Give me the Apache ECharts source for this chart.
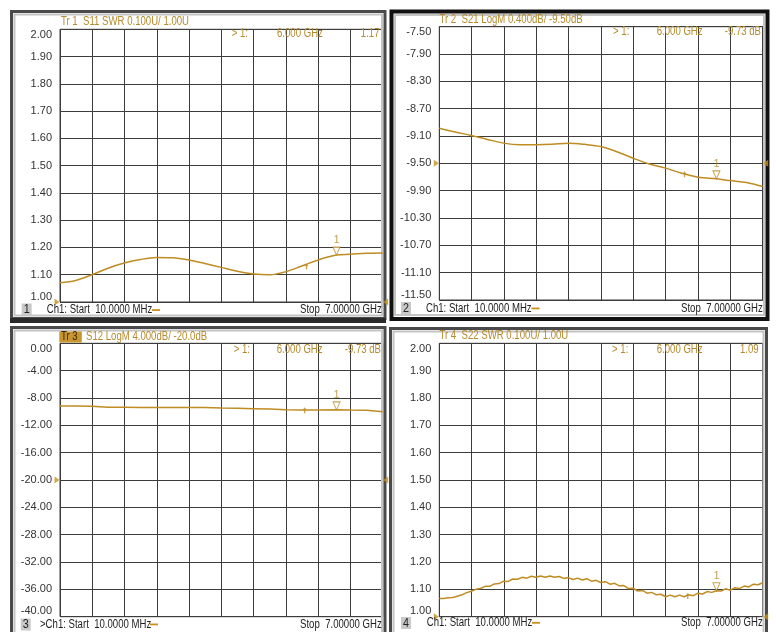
<!DOCTYPE html>
<html><head><meta charset="utf-8">
<script src="https://cdn.jsdelivr.net/npm/echarts@6/dist/echarts.min.js"></script>
<style>html,body{margin:0;padding:0;background:#fff}#c{width:776px;height:632px}</style>
</head><body><div id="c"></div>
<script>
// ---- data (GHz / SWR / dB) ----
const freqs = [0.01,0.35,0.7,1.05,1.4,1.75,2.1,2.45,2.8,3.15,3.5,3.85,4.2,4.55,4.9,5.25,5.6,6.0,6.3,6.65,7.0];
const s11 = [1.071,1.079,1.100,1.124,1.143,1.156,1.163,1.162,1.154,1.141,1.127,1.113,1.103,1.100,1.111,1.132,1.154,1.172,1.175,1.179,1.180];
const s21 = [-8.985,-9.04,-9.092,-9.15,-9.204,-9.228,-9.229,-9.222,-9.205,-9.222,-9.254,-9.33,-9.425,-9.51,-9.57,-9.645,-9.702,-9.727,-9.752,-9.78,-9.84];
const s12 = [-9.19,-9.19,-9.20,-9.37,-9.37,-9.38,-9.38,-9.38,-9.38,-9.39,-9.45,-9.50,-9.56,-9.63,-9.72,-9.76,-9.76,-9.74,-9.77,-9.78,-10.0];
const freqsFine = [0.01,0.1,0.2,0.3,0.4,0.5,0.6,0.7,0.8,0.9,1.0,1.1,1.2,1.3,1.4,1.5,1.6,1.7,1.8,1.9,2.0,2.1,2.2,2.3,2.4,2.5,2.6,2.7,2.8,2.9,3.0,3.1,3.2,3.3,3.4,3.5,3.6,3.7,3.8,3.9,4.0,4.1,4.2,4.3,4.4,4.5,4.6,4.7,4.8,4.9,5.0,5.1,5.2,5.3,5.4,5.5,5.6,5.7,5.8,5.9,6.0,6.1,6.2,6.3,6.4,6.5,6.6,6.7,6.8,6.9,7.0];
const s22 = [1.067,1.067,1.069,1.070,1.075,1.080,1.088,1.093,1.100,1.103,1.111,1.111,1.120,1.121,1.130,1.129,1.138,1.137,1.144,1.141,1.148,1.144,1.149,1.144,1.149,1.144,1.147,1.140,1.143,1.136,1.141,1.134,1.139,1.130,1.133,1.125,1.128,1.119,1.122,1.113,1.114,1.103,1.104,1.094,1.096,1.086,1.089,1.080,1.082,1.073,1.079,1.073,1.079,1.073,1.080,1.077,1.086,1.083,1.092,1.089,1.095,1.094,1.102,1.097,1.106,1.103,1.112,1.109,1.119,1.117,1.124];

const yLabels1 = ['1.00','1.10','1.20','1.30','1.40','1.50','1.60','1.70','1.80','1.90','2.00'];
const yLabels2 = ['-11.50','-11.10','-10.70','-10.30','-9.90','-9.50','-9.10','-8.70','-8.30','-7.90','-7.50'];
const yLabels3 = ['-40.00','-36.00','-32.00','-28.00','-24.00','-20.00','-16.00','-12.00','-8.00','-4.00','0.00'];
const yLabels4 = ['1.00','1.10','1.20','1.30','1.40','1.50','1.60','1.70','1.80','1.90','2.00'];

const yRanges = [[1,2],[-11.5,-7.5],[-40,0],[1,2]];
const refLevels = [1.0, -9.5, -20, 1.0];
const markerFreq = 6.0;
const markerText = '6.000 GHz';
const markerReadouts = ['1.17','-9.73 dB','-9.73 dB','1.09'];
const startText = 'Ch1: Start  10.0000 MHz';
const stopText = 'Stop  7.00000 GHz';
const glyphFreqs = [5.35, 5.31, 5.31, 5.38];
const glyphVals = [1.130, -9.66, -9.80, 1.076];

// ---- layout / style ----
const GOLD = '#b48a2c';
const TRACE = '#bf8c22';
const GRIDC = '#3c3c3c';
const FONT = '"Liberation Sans", Arial, sans-serif';
const grids = [
  {left:60, top:29.3, width:322.7, height:272.7},
  {left:439.3, top:26.7, width:323.4, height:273.3},
  {left:60, top:343.3, width:322.7, height:273.4},
  {left:439.3, top:343.3, width:323.4, height:273.4}
];
const yLabelSets = [yLabels1, yLabels2, yLabels3, yLabels4];
const seriesX = [freqs, freqs, freqs, freqsFine];
const seriesY = [s11, s21, s12, s22];

const chart = echarts.init(document.getElementById('c'), null, {renderer:'canvas'});

const xAxis = [], yAxis = [], series = [];
for (let i = 0; i < 4; i++) {
  xAxis.push({type:'value', gridIndex:i, min:0, max:10, interval:1,
    axisLine:{show:false}, axisTick:{show:false}, axisLabel:{show:false},
    splitLine:{show:true, lineStyle:{color:GRIDC, width:1}}});
  xAxis.push({type:'value', gridIndex:i, min:0.01, max:7.0, show:false, splitLine:{show:false}});
  const labs = yLabelSets[i];
  yAxis.push({type:'value', gridIndex:i, min:0, max:10, interval:1,
    axisLine:{show:false}, axisTick:{show:false},
    axisLabel:{show:true, margin:8, color:'#333', fontSize:11, fontFamily:FONT,
      showMinLabel:true, showMaxLabel:true,
      verticalAlignMinLabel:'bottom', verticalAlignMaxLabel:'top',
      formatter: v => labs[Math.round(v)]},
    splitLine:{show:true, lineStyle:{color:GRIDC, width:1}}});
  yAxis.push({type:'value', gridIndex:i, min:yRanges[i][0], max:yRanges[i][1], show:false, splitLine:{show:false}});

  const xs = seriesX[i], ys = seriesY[i];
  const pts = xs.map((f, k) => [f, ys[k]]);
  series.push({type:'line', xAxisIndex:2*i+1, yAxisIndex:2*i+1, data:pts, symbol:'none',
    smooth: (i === 0 || i === 1) ? 0.35 : false, lineStyle:{color:TRACE, width:1.5}, z:3, animation:false});
  const mIdx = xs.indexOf(markerFreq);
  series.push({type:'scatter', xAxisIndex:2*i+1, yAxisIndex:2*i+1, data:[[markerFreq, ys[mIdx]]],
    symbol:'path://M0,0 L10,0 L5,11 Z', symbolSize:[7,8], symbolOffset:[0,'-50%'],
    itemStyle:{color:'rgba(255,255,255,0.9)', borderColor:TRACE, borderWidth:1},
    label:{show:true, formatter:'1', position:'top', distance:1, color:GOLD, fontSize:11, fontFamily:FONT},
    z:4, clip:false, animation:false});
  series.push({type:'scatter', xAxisIndex:2*i+1, yAxisIndex:2*i+1,
    data:[
      {value:[0.01, refLevels[i]], symbol:'path://M0,0 L10,5 L0,10 Z', symbolOffset:[-3,0]},
      {value:[7.0, refLevels[i]], symbol:'path://M10,0 L0,5 L10,10 Z', symbolOffset:[3,0]}
    ],
    symbolSize:[5,7], itemStyle:{color:'#c8901c'}, z:5, clip:false, animation:false});
  series.push({type:'scatter', xAxisIndex:2*i+1, yAxisIndex:2*i+1,
    data:[[glyphFreqs[i], glyphVals[i]]],
    symbol:'path://M3,0 L6,4 L4,4 L4,9 L2,9 L2,4 L0,4 Z', symbolSize:[4,6],
    itemStyle:{color:TRACE}, z:4, clip:false, animation:false});
}

// graphic helpers
function txt(x, y, s, o) {
  o = o || {};
  return {type:'text', x:x, y:y, scaleX: o.scaleX || 0.8, silent:true, z:10,
    style:{text:s, fill:o.fill || GOLD, font:(o.size || 12) + 'px ' + FONT,
      textAlign:o.align || 'left', textVerticalAlign:'middle', verticalAlign:'middle'}};
}
function box(x, y, w, h, fill) {
  return {type:'rect', silent:true, z:9, shape:{x:x, y:y, width:w, height:h}, style:{fill:fill}};
}
function frame(x, y, w, h, color, lw) {
  return {type:'rect', silent:true, z:1, shape:{x:x, y:y, width:w, height:h}, style:{fill:null, stroke:color, lineWidth:lw}};
}

const g = [];
// panel frames
g.push(frame(11.5, 11.5, 373.5, 307, '#4a4a4a', 3));
g.push(frame(14.5, 14.5, 367.5, 301, '#c4c4c4', 2));
g.push(frame(391.5, 11.5, 376, 307.5, '#111', 4));
g.push(frame(395, 15, 369, 300, '#c4c4c4', 2));
g.push(frame(11.5, 327.5, 373.5, 310, '#4a4a4a', 3));
g.push(frame(14.5, 330.5, 367.5, 310, '#c4c4c4', 2));
g.push(frame(390.5, 328.5, 376, 310, '#4a4a4a', 3));
g.push(frame(393.5, 331.5, 370, 310, '#c4c4c4', 2));
// separator band
g.push(box(10, 318, 376, 5, '#2a2a2a'));

// titles
g.push(txt(61, 21.7, 'Tr 1  S11 SWR 0.100U/ 1.00U'));
g.push(txt(439.5, 20, 'Tr 2  S21 LogM 0.400dB/ -9.50dB'));
g.push(box(59.3, 331.5, 22.5, 11, '#c8962e'));
g.push(txt(61, 337, 'Tr 3', {fill:'#3a2800'}));
g.push(txt(86, 336.7, 'S12 LogM 4.000dB/ -20.0dB'));
g.push(txt(439.5, 336, 'Tr 4  S22 SWR 0.100U/ 1.00U'));

// marker readouts
const ro = [
  {a:248, b:277, c:379.5, y:33.3},
  {a:629.3, b:656.7, c:761, y:32},
  {a:250, b:276.7, c:381, y:350},
  {a:628.3, b:656.7, c:758.7, y:350}
];
ro.forEach((r, i) => {
  g.push(txt(r.a, r.y, '> 1:', {align:'right'}));
  g.push(txt(r.b, r.y, markerText));
  g.push(txt(r.c, r.y, markerReadouts[i], {align:'right'}));
});

// footers
const ft = [
  {n:'1', bx:21.7, by:303.5, tx:46.7, y:310, pre:'', dash:152, stop:381.7},
  {n:'2', bx:401, by:302, tx:426, y:308.3, pre:'', dash:531.5, stop:762.7},
  {n:'3', bx:20.7, by:618.5, tx:40, y:624.3, pre:'>', dash:150, stop:381.7},
  {n:'4', bx:401, by:617, tx:426.7, y:622.7, pre:'', dash:532, stop:762.7}
];
ft.forEach(f => {
  g.push(box(f.bx, f.by, 10, 12, '#c9c9c9'));
  g.push(txt(f.bx + 5, f.by + 6.5, f.n, {fill:'#222', align:'center', scaleX:0.9}));
  g.push(txt(f.tx, f.y, f.pre + startText, {fill:'#222'}));
  g.push(box(f.dash, f.y - 0.8, 8, 1.8, '#c8901c'));
  g.push(txt(f.stop, f.y, stopText, {fill:'#222', align:'right'}));
});

chart.setOption({
  backgroundColor:'#ffffff',
  animation:false,
  grid: grids.map(q => Object.assign({show:true, borderColor:GRIDC, borderWidth:1, backgroundColor:'transparent', containLabel:false}, q)),
  xAxis, yAxis, series,
  graphic: {elements: g}
});
</script>
</body></html>
